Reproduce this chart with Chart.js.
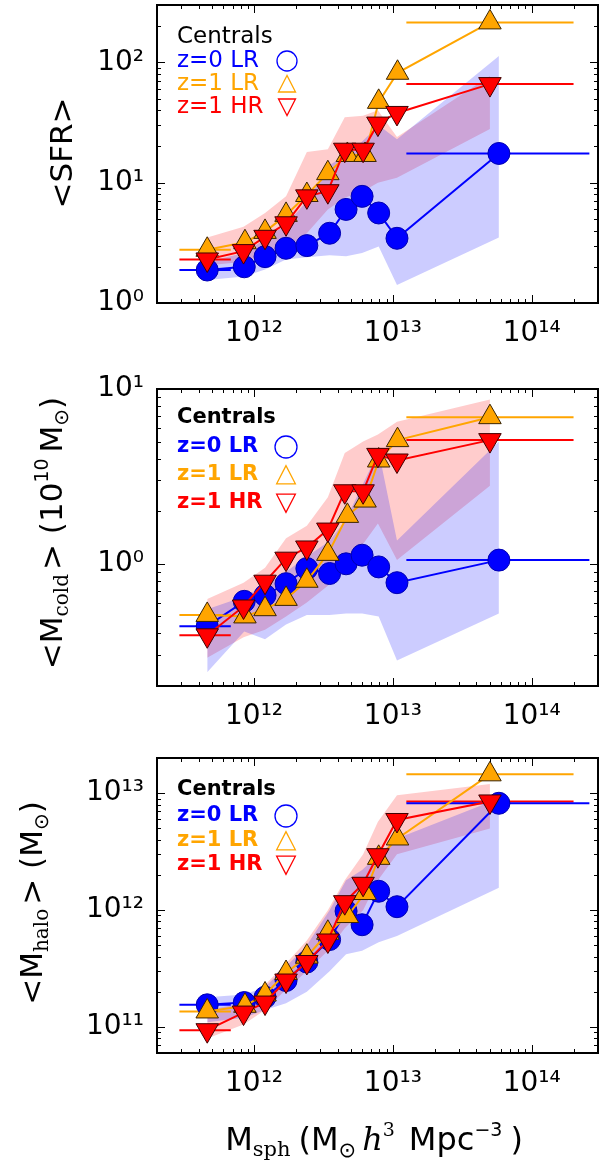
<!DOCTYPE html>
<html><head><meta charset="utf-8">
<script src="https://cdn.jsdelivr.net/npm/chart.js@4.4.1/dist/chart.umd.min.js"></script>
<style>
html,body{margin:0;padding:0;background:#fff;width:600px;height:1165px;overflow:hidden;}
canvas{position:absolute;left:0;}
</style></head><body>
<canvas id="c1" width="600" height="372" style="top:0px"></canvas>
<canvas id="c2" width="600" height="360" style="top:372px"></canvas>
<canvas id="c3" width="600" height="433" style="top:732px"></canvas>
<script>
// ---------- DATA ----------
const xZ0   = [4.6e11, 8.5e11, 1.2e12, 1.7e12, 2.4e12, 3.5e12, 4.6e12, 6.0e12, 7.9e12, 1.07e13, 5.8e13];
const xZ1LR = [4.6e11, 8.6e11, 1.2e12, 1.7e12, 2.4e12, 3.4e12, 4.7e12, 6.3e12, 7.9e12, 1.08e13, 5.0e13];
const xZ1HR = [4.6e11, 8.4e11, 1.2e12, 1.7e12, 2.4e12, 3.4e12, 4.5e12, 6.1e12, 7.8e12, 1.07e13, 5.0e13];

const binFirst  = [2.9e11, 6.8e11];
const binLastZ1 = [1.25e13, 2.0e14];
const binLastZ0 = [1.25e13, 2.6e14];

// <SFR>
const sfrZ0   = [1.88, 2.0, 2.43, 2.85, 3.0, 3.8, 6.0, 7.7, 5.6, 3.45, 17.5];
const sfrZ1LR = [2.77, 3.2, 3.9, 5.4, 7.9, 12, 17, 17, 47, 82, 215];
const sfrZ1HR = [2.3, 2.7, 3.55, 4.6, 7.7, 8.5, 18.8, 18.8, 31, 38, 66];
const sfrZ0Lo = [1.55, 1.66, 1.9, 2.3, 2.4, 2.5, 2.45, 2.6, 2.95, 1.41, 3.5];
const sfrZ0Hi = [2.2, 2.6, 3.4, 4.5, 7, 14, 17, 22, 30, 23, 113];
const sfrHRLo = [2.05, 2.2, 2.5, 2.8, 3.8, 6, 7.5, 8.5, 10, 11, 28];
const sfrHRHi = [3.5, 4.3, 5.6, 7.7, 18, 19, 35, 36, 40, 24, 77];

// <M_cold>
const coldZ0   = [0.44, 0.61, 0.66, 0.77, 0.94, 0.88, 1.0, 1.12, 0.96, 0.78, 1.05];
const coldZ1LR = [0.51, 0.5, 0.55, 0.63, 0.8, 1.14, 1.88, 2.3, 3.9, 5.1, 6.9];
const coldZ1HR = [0.39, 0.57, 0.79, 1.07, 1.24, 1.57, 2.6, 2.6, 4.2, 3.9, 5.1];
const coldZ0Lo = [0.24, 0.41, 0.37, 0.45, 0.51, 0.51, 0.52, 0.52, 0.5, 0.28, 0.52];
const coldZ0Hi = [0.55, 0.65, 0.75, 0.9, 1.1, 1.35, 1.8, 2.8, 4.4, 1.36, 5.0];
const coldHRLo = [0.29, 0.38, 0.42, 0.5, 0.6, 0.75, 1.0, 1.3, 1.7, 1.05, 2.8];
const coldHRHi = [0.63, 0.78, 0.95, 1.4, 1.65, 2.4, 4.3, 5.0, 5.5, 6.5, 8.7];

// <M_halo>
const haloZ0   = [1.55e11, 1.62e11, 1.8e11, 2.5e11, 3.6e11, 5.6e11, 9.8e11, 7.5e11, 1.45e12, 1.07e12, 8.2e12];
const haloZ1LR = [1.36e11, 1.52e11, 1.9e11, 2.9e11, 4.0e11, 6.4e11, 8.9e11, 1.4e12, 2.8e12, 4.1e12, 1.45e13];
const haloZ1HR = [9.4e10, 1.33e11, 1.62e11, 2.5e11, 3.6e11, 5.5e11, 1.17e12, 1.68e12, 2.95e12, 5.9e12, 8.5e12];
const haloZ0Lo = [1.1e11, 1.2e11, 1.4e11, 1.6e11, 2.0e11, 3.0e11, 4.2e11, 4.5e11, 5.3e11, 6.0e11, 1.55e12];
const haloZ0Hi = [1.8e11, 1.9e11, 2.2e11, 3.3e11, 5.0e11, 1.0e12, 1.8e12, 2.2e12, 3.0e12, 4.1e12, 9.0e12];
const haloHRLo = [8.0e10, 1.05e11, 1.4e11, 2.1e11, 3.0e11, 4.5e11, 7.0e11, 1.0e12, 1.8e12, 3.0e12, 5.0e12];
const haloHRHi = [1.4e11, 1.6e11, 2.3e11, 3.5e11, 5.5e11, 1.0e12, 1.8e12, 3.0e12, 5.7e12, 9.6e12, 1.2e13];

// tick labels
const xTickVals = [1e12, 1e13, 1e14];
const xTickText = ['10¹²', '10¹³', '10¹⁴'];
const sfrTickVals = [1, 10, 100];
const sfrTickText = ['10⁰', '10¹', '10²'];
const coldTickVals = [1, 10];
const coldTickText = ['10⁰', '10¹'];
const haloTickVals = [1e11, 1e12, 1e13];
const haloTickText = ['10¹¹', '10¹²', '10¹³'];

const legendText = ['Centrals', 'z=0 LR', 'z=1 LR', 'z=1 HR'];

// ---------- STYLE ----------
const BLUE = '#0000ff', ORANGE = '#ffa500', RED = '#ff0000';
const SANS = '"DejaVu Sans"', SERIF = '"DejaVu Serif"';

function pts(xs, ys) { return xs.map((x, i) => ({x: x, y: ys[i]})); }
function bar(xs, yv) { return [{x: xs[0], y: yv}, {x: xs[1], y: yv}]; }
function labeler(vals, texts) {
  return function (v) {
    for (let i = 0; i < vals.length; i++) {
      if (Math.abs(Math.log10(v) - Math.log10(vals[i])) < 1e-6) return texts[i];
    }
    return null;
  };
}

const decoCfg = {};

function rich(ctx, segs, x, y, rot) {
  ctx.save();
  ctx.translate(x, y);
  ctx.rotate(rot || 0);
  ctx.textBaseline = 'alphabetic';
  ctx.textAlign = 'left';
  let w = 0;
  const ws = segs.map(s => { ctx.font = s.f; const m = ctx.measureText(s.t).width; w += m + (s.g || 0); return m; });
  let cx = -w / 2;
  segs.forEach((s, i) => {
    ctx.font = s.f; ctx.fillStyle = '#000';
    ctx.fillText(s.t, cx, s.dy || 0);
    cx += ws[i] + (s.g || 0);
  });
  ctx.restore();
}

const deco = {
  id: 'deco',
  afterDatasetsDraw(chart) {
    const cfg = decoCfg[chart.canvas.id];
    if (!cfg) return;
    const ctx = chart.ctx, a = chart.chartArea;
    const xs = chart.scales.x, ys = chart.scales.y;
    ctx.save();
    ctx.strokeStyle = '#000';
    ctx.lineWidth = 1;
    function axisTicks(scale, horiz) {
      const lo = Math.floor(Math.log10(scale.min)), hi = Math.ceil(Math.log10(scale.max));
      for (let e = lo; e <= hi; e++) for (let m = 1; m <= 9; m++) {
        const v = m * Math.pow(10, e);
        if (v < scale.min * 0.9999 || v > scale.max * 1.0001) continue;
        const p = Math.round(scale.getPixelForValue(v)) + 0.5;
        const L = m === 1 ? 8 : 4;
        ctx.beginPath();
        if (horiz) { ctx.moveTo(p, a.top); ctx.lineTo(p, a.top + L); ctx.moveTo(p, a.bottom); ctx.lineTo(p, a.bottom - L); }
        else { ctx.moveTo(a.left, p); ctx.lineTo(a.left + L, p); ctx.moveTo(a.right, p); ctx.lineTo(a.right - L, p); }
        ctx.stroke();
      }
    }
    axisTicks(xs, true);
    axisTicks(ys, false);
    ctx.lineWidth = 2;
    ctx.strokeRect(a.left, a.top, a.right - a.left, a.bottom - a.top);

    // legend
    const L = cfg.legend;
    ctx.textAlign = 'left';
    ctx.textBaseline = 'middle';
    ctx.font = L.font;
    const cols = ['#000', BLUE, ORANGE, RED];
    legendText.forEach((t, i) => {
      ctx.fillStyle = cols[i];
      ctx.fillText(t, L.x, L.ys[i]);
    });
    ctx.lineWidth = 1.3;
    const sx = L.sx, r = L.r;
    ctx.strokeStyle = BLUE;
    ctx.beginPath(); ctx.arc(sx, L.ys[1], r, 0, Math.PI * 2); ctx.stroke();
    ctx.strokeStyle = ORANGE;
    ctx.beginPath(); ctx.moveTo(sx, L.ys[2] - r * 0.85); ctx.lineTo(sx - r * 0.85, L.ys[2] + r * 0.8); ctx.lineTo(sx + r * 0.85, L.ys[2] + r * 0.8); ctx.closePath(); ctx.stroke();
    ctx.strokeStyle = RED;
    ctx.beginPath(); ctx.moveTo(sx, L.ys[3] + r * 0.85); ctx.lineTo(sx - r * 0.85, L.ys[3] - r * 0.8); ctx.lineTo(sx + r * 0.85, L.ys[3] - r * 0.8); ctx.closePath(); ctx.stroke();

    // titles
    cfg.titles.forEach(T => rich(ctx, T.segs, T.x, T.y, T.rot));
    ctx.restore();
  }
};

const AREA_LEFT = 157, AREA_RIGHT = 598;

function makePanel(id, P) {
  const band = (xsv, ysv, col, fill) => ({
    data: pts(xsv, ysv), fill: fill, backgroundColor: col, borderColor: 'rgba(0,0,0,0)',
    borderWidth: 0, pointRadius: 0, pointHoverRadius: 0, tension: 0, order: 20
  });
  const hbar = (xsv, yv, col) => ({
    data: bar(xsv, yv), borderColor: col, borderWidth: 2, pointRadius: 0, fill: false, order: 10
  });
  const datasets = [
    band(xZ0, P.z0Hi, 'rgba(0,0,255,0.2)', '+1'),
    band(xZ0, P.z0Lo, 'rgba(0,0,0,0)', false),
    band(xZ1HR, P.hrHi, 'rgba(255,0,0,0.2)', '+1'),
    band(xZ1HR, P.hrLo, 'rgba(0,0,0,0)', false),
    hbar(binFirst, P.z0[0], BLUE), hbar(binLastZ0, P.z0[10], BLUE),
    hbar(binFirst, P.lr[0], ORANGE), hbar(binLastZ1, P.lr[10], ORANGE),
    hbar(binFirst, P.hr[0], RED), hbar(binLastZ1, P.hr[10], RED),
    { label: 'z=0 LR', data: pts(xZ0, P.z0), borderColor: BLUE, borderWidth: 2, fill: false,
      pointStyle: 'circle', pointRadius: 11, pointBackgroundColor: BLUE, pointBorderColor: '#0000b0', pointBorderWidth: 1, order: 3 },
    { label: 'z=1 LR', data: pts(xZ1LR, P.lr), borderColor: ORANGE, borderWidth: 2, fill: false,
      pointStyle: 'triangle', pointRadius: 13, pointBackgroundColor: ORANGE, pointBorderColor: '#3a2400', pointBorderWidth: 1, order: 2 },
    { label: 'z=1 HR', data: pts(xZ1HR, P.hr), borderColor: RED, borderWidth: 2, fill: false,
      pointStyle: 'triangle', rotation: 180, pointRotation: 180, pointRadius: 13, pointBackgroundColor: RED, pointBorderColor: '#400000', pointBorderWidth: 1, order: 1 }
  ];
  const chart = new Chart(document.getElementById(id), {
    type: 'line',
    data: { datasets: datasets },
    plugins: [deco],
    options: {
      responsive: false, animation: false, devicePixelRatio: 1,
      layout: { autoPadding: false, padding: { top: P.top, right: 600 - AREA_RIGHT, left: 0, bottom: 0 } },
      plugins: { legend: { display: false }, tooltip: { enabled: false }, filler: { drawTime: 'beforeDatasetsDraw' } },
      elements: { line: { tension: 0 } },
      scales: {
        x: { type: 'logarithmic', min: 2e11, max: 3e14,
             grid: { display: false, drawTicks: false }, border: { display: false },
             ticks: { autoSkip: false, maxRotation: 0, padding: P.xpad, color: '#000',
                      font: { family: 'DejaVu Sans', size: 28 }, callback: labeler(xTickVals, xTickText) },
             afterFit: s => { s.height = P.xh; s.paddingLeft = 0; s.paddingRight = 0; } },
        y: { type: 'logarithmic', min: P.ymin, max: P.ymax,
             grid: { display: false, drawTicks: false }, border: { display: false },
             ticks: { autoSkip: false, padding: 13, color: '#000',
                      font: { family: 'DejaVu Sans', size: 28 }, callback: labeler(P.tv, P.tt) },
             afterFit: s => { s.width = AREA_LEFT; s.paddingTop = 0; s.paddingBottom = 0; } }
      }
    }
  });
  // calibrate the plot area onto the reference frame position
  const wantBottom = document.getElementById(id).height - P.xh;
  for (let k = 0; k < 3; k++) {
    const a = chart.chartArea;
    const pad = chart.options.layout.padding;
    const dT = P.top - a.top, dR = AREA_RIGHT - a.right, dL = AREA_LEFT - a.left, dB = wantBottom - a.bottom;
    if (Math.abs(dT) < 0.5 && Math.abs(dR) < 0.5 && Math.abs(dL) < 0.5 && Math.abs(dB) < 0.5) break;
    chart.options.layout.padding = {
      top: Math.max(0, pad.top + dT), right: Math.max(0, pad.right - dR), left: Math.max(0, pad.left + dL), bottom: Math.max(0, pad.bottom - dB)
    };
    chart.update();
  }
  return chart;
}

const f30 = '31px ' + SANS, fsub = '20px ' + SERIF, fsubS = '20px ' + SANS, fsup = '19px ' + SANS;
const fx = '32px ' + SANS, fxs = '21px ' + SERIF, fxsS = '21px ' + SANS;

decoCfg.c1 = {
  legend: { font: '23px ' + SANS, x: 177, ys: [37, 61, 84, 107], sx: 287, r: 10 },
  titles: [ { x: 72, y: 153, rot: -Math.PI / 2, segs: [ { t: '<SFR>', f: f30 } ] } ]
};
decoCfg.c2 = {
  legend: { font: 'bold 21px ' + SANS, x: 177, ys: [46, 75, 103, 131], sx: 286, r: 11 },
  titles: [ { x: 62, y: 161, rot: -Math.PI / 2, segs: [
    { t: '<M', f: f30 }, { t: 'cold', f: fsub, dy: 6, g: 4 }, { t: '> (10', f: f30 },
    { t: '10', f: fsup, dy: -14, g: 6 }, { t: 'M', f: f30 }, { t: '⊙', f: fsubS, dy: 6 }, { t: ')', f: f30 } ] } ]
};
decoCfg.c3 = {
  legend: { font: 'bold 21px ' + SANS, x: 177, ys: [58, 84, 109, 133], sx: 286, r: 11 },
  titles: [
    { x: 42, y: 171, rot: -Math.PI / 2, segs: [
      { t: '<M', f: f30 }, { t: 'halo', f: fsub, dy: 6, g: 4 }, { t: '> (M', f: f30 },
      { t: '⊙', f: fsubS, dy: 6 }, { t: ')', f: f30 } ] },
    { x: 374, y: 418, rot: 0, segs: [
      { t: 'M', f: fx }, { t: 'sph', f: fxs, dy: 6, g: 8 }, { t: '(M', f: fx },
      { t: '⊙', f: fxsS, dy: 7, g: 6 }, { t: 'h', f: 'italic ' + fx.replace('DejaVu Sans', 'DejaVu Serif') },
      { t: '3', f: '19px ' + SERIF, dy: -14, g: 14 }, { t: 'Mpc', f: fx },
      { t: '−3', f: '19px ' + SANS, dy: -14, g: 8 }, { t: ')', f: fx } ] }
  ]
};

makePanel('c1', { top: 5, xh: 69, xpad: 14, ymin: 1, ymax: 300, tv: sfrTickVals, tt: sfrTickText,
  z0: sfrZ0, lr: sfrZ1LR, hr: sfrZ1HR, z0Lo: sfrZ0Lo, z0Hi: sfrZ0Hi, hrLo: sfrHRLo, hrHi: sfrHRHi });
makePanel('c2', { top: 17, xh: 46, xpad: 14, ymin: 0.2, ymax: 10, tv: coldTickVals, tt: coldTickText,
  z0: coldZ0, lr: coldZ1LR, hr: coldZ1HR, z0Lo: coldZ0Lo, z0Hi: coldZ0Hi, hrLo: coldHRLo, hrHi: coldHRHi });
makePanel('c3', { top: 26, xh: 112, xpad: 14, ymin: 6e10, ymax: 2e13, tv: haloTickVals, tt: haloTickText,
  z0: haloZ0, lr: haloZ1LR, hr: haloZ1HR, z0Lo: haloZ0Lo, z0Hi: haloZ0Hi, hrLo: haloHRLo, hrHi: haloHRHi });
</script>
</body></html>
